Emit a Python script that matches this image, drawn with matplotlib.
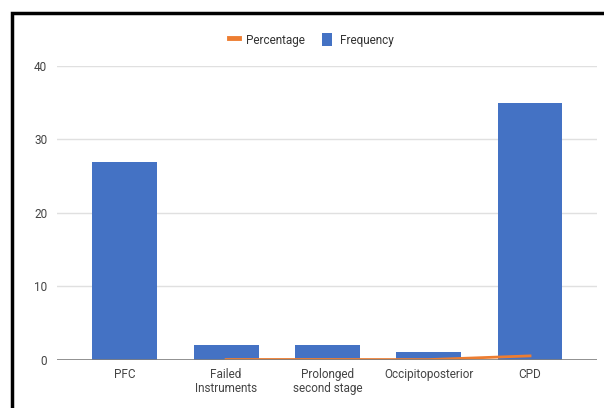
import matplotlib
matplotlib.use("Agg")
import matplotlib.pyplot as plt
from matplotlib.patches import Rectangle
from matplotlib.lines import Line2D
import numpy as np

categories = ["PFC", "Failed\nInstruments", "Prolonged\nsecond stage", "Occipitoposterior", "CPD"]
frequency = [27, 2, 2, 1, 35]
percentage = [np.nan, 0.03, 0.03, 0.015, 0.52]
yticks = [0, 10, 20, 30, 40]

BLUE = "#4472C4"
ORANGE = "#ED7D31"

plt.rcParams["font.family"] = ["Roboto", "DejaVu Sans"]

W, H = 604, 408
fig = plt.figure(figsize=(W / 100, H / 100), dpi=100)
fig.patch.set_facecolor("white")

ax = fig.add_axes([57 / W, (H - 359.7) / H, (597 - 57) / W, (359.7 - 66.1) / H])
x = np.arange(len(categories))
ax.bar(x, frequency, width=0.64, color=BLUE, zorder=3)
ax.plot(x, percentage, color=ORANGE, linewidth=2, zorder=4)

ax.set_xlim(-0.669, 4.661)
ax.set_ylim(0, 40)
ax.set_yticks(yticks)
ax.set_yticklabels([str(t) for t in yticks])
ax.set_xticks(x)
ax.set_xticklabels(categories, linespacing=1.05)

ax.grid(axis="y", color="#e0e0e0", linewidth=1, zorder=0)
ax.axhline(0, color="#7f7f7f", linewidth=1.2, zorder=5)
for s in ax.spines.values():
    s.set_visible(False)
ax.tick_params(axis="both", length=0, labelsize=8.5, colors="#444444")
ax.tick_params(axis="y", pad=7)
ax.tick_params(axis="x", pad=6)

handles = [
    Line2D([0], [0], color=ORANGE, linewidth=3.5),
    Rectangle((0, 0), 1, 1, facecolor=BLUE),
]
fig.legend(handles, ["Percentage", "Frequency"], loc="center",
           bbox_to_anchor=(311 / W, 1 - 40 / H), ncol=2, frameon=False,
           fontsize=8.5, handlelength=0.9, handleheight=1.2, handletextpad=0.6,
           columnspacing=1.4, labelcolor="#333333")

# frame around the chart
fig.patches.append(Rectangle((11.5 / W, -0.1), 1.2, 1 - 12.5 / H + 0.1,
                             transform=fig.transFigure, fill=False,
                             edgecolor="black", linewidth=2.5))

fig.savefig("out.png", dpi=100)
